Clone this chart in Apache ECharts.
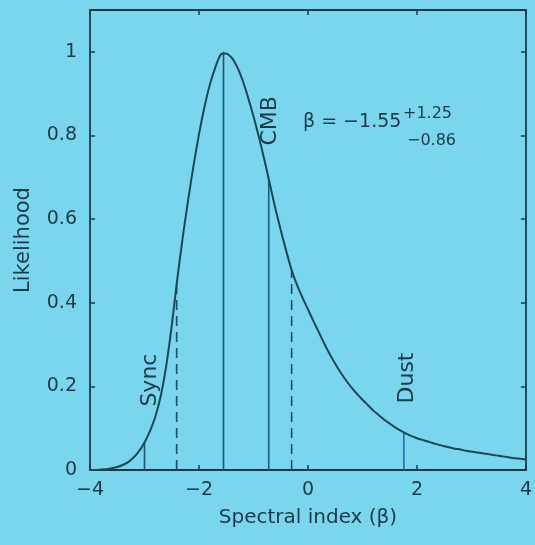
<!DOCTYPE html>
<html>
<head>
<meta charset="utf-8">
<script src="https://cdn.jsdelivr.net/npm/echarts@6/dist/echarts.min.js"></script>
<style>
  html, body { margin: 0; padding: 0; background: #7ad6ed; }
  #chart { width: 535px; height: 545px; }
</style>
</head>
<body>
<div id="chart"></div>
<script>
// 似然曲线 (spectral index beta)
const betaX = [-4.0, -3.9, -3.8, -3.7, -3.6, -3.5, -3.4, -3.3, -3.2, -3.1,
  -3.0, -2.9, -2.8, -2.7, -2.6, -2.5, -2.4, -2.3, -2.2, -2.1,
  -2.0, -1.9, -1.8, -1.7, -1.6, -1.5, -1.4, -1.3, -1.2, -1.1,
  -1.0, -0.9, -0.8, -0.7, -0.6, -0.5, -0.4, -0.3, -0.2, -0.1,
  0.0, 0.1, 0.2, 0.3, 0.4, 0.5, 0.6, 0.7, 0.8, 0.9,
  1.0, 1.1, 1.2, 1.3, 1.4, 1.5, 1.6, 1.7, 1.8, 1.9,
  2.0, 2.1, 2.2, 2.3, 2.4, 2.5, 2.6, 2.7, 2.8, 2.9,
  3.0, 3.1, 3.2, 3.3, 3.4, 3.5, 3.6, 3.7, 3.8, 3.9, 4.0]
const likelihood = [0.000, 0.000, 0.001, 0.002, 0.004, 0.007, 0.012, 0.019, 0.030, 0.045,
  0.066, 0.093, 0.128, 0.178, 0.250, 0.345, 0.455, 0.555, 0.645, 0.728,
  0.803, 0.868, 0.922, 0.963, 0.994, 0.996, 0.986, 0.964, 0.932, 0.891,
  0.846, 0.796, 0.742, 0.684, 0.626, 0.574, 0.524, 0.478, 0.442, 0.412,
  0.384, 0.356, 0.329, 0.302, 0.277, 0.254, 0.233, 0.214, 0.197, 0.182,
  0.168, 0.155, 0.142, 0.131, 0.120, 0.111, 0.102, 0.094, 0.087, 0.081,
  0.076, 0.072, 0.068, 0.064, 0.060, 0.057, 0.054, 0.051, 0.049, 0.046,
  0.044, 0.042, 0.040, 0.038, 0.036, 0.034, 0.032, 0.030, 0.028, 0.027, 0.025]

// 竖线: Sync, 下限, 最佳值, CMB, 上限, Dust
const markerX = [-3.0, -2.41, -1.55, -0.72, -0.3, 1.76]
const markerY = [0.066, 0.445, 1.0, 0.696, 0.478, 0.09]
const markerDashed = [false, true, false, false, true, false]
const markerColor = ['#1d5470', '#1d4a5e', '#1d5470', '#1f5a86', '#1d4a5e', '#2b63c4']

// 标签
const labelNames = ['Sync', 'CMB', 'Dust']
const labelX = [-2.9, -0.69, 1.82]
const labelY = [0.215, 0.835, 0.22]

const font = '"DejaVu Sans", Verdana, sans-serif'
const ink = '#1b3a47'
const minus = v => String(v).replace('-', '\u2212')

let myChart = echarts.init(document.getElementById('chart'))

let series = [{
  type: 'line',
  data: betaX.map((x, i) => [x, likelihood[i]]),
  showSymbol: false,
  smooth: 0.2,
  lineStyle: { color: '#1c4656', width: 2 },
  z: 5
}]

for (let i = 0; i < markerX.length; i++) {
  series.push({
    type: 'line',
    data: [[markerX[i], 0], [markerX[i], markerY[i]]],
    showSymbol: false,
    lineStyle: {
      color: markerColor[i],
      width: 1.6,
      type: markerDashed[i] ? [10, 6] : 'solid'
    },
    z: 3
  })
}

series.push({
  type: 'scatter',
  data: labelNames.map((n, i) => ({ value: [labelX[i], labelY[i]], name: n })),
  symbolSize: 0,
  itemStyle: { opacity: 1 },
  label: {
    show: true,
    position: 'inside',
    rotate: 90,
    formatter: p => p.name,
    color: ink,
    textBorderWidth: 0,
    fontFamily: font,
    fontSize: 22
  },
  z: 6
})

const axisCommon = {
  axisLine: { show: true, onZero: false, lineStyle: { color: ink, width: 1.8 } },
  axisTick: { show: true, inside: true, length: 5, lineStyle: { color: ink, width: 1.5 } },
  splitLine: { show: false }
}

let options = {
  backgroundColor: '#7ad6ed',
  animation: false,
  grid: { left: 90, right: 8, top: 10, bottom: 75 },
  xAxis: [
    Object.assign({
      type: 'value', min: -4, max: 4, interval: 2,
      name: 'Spectral index (\u03b2)',
      nameLocation: 'middle',
      nameGap: 38,
      nameTextStyle: { color: ink, fontFamily: font, fontSize: 20 },
      axisLabel: { color: ink, fontFamily: font, fontSize: 19, margin: 11, formatter: minus }
    }, axisCommon),
    Object.assign({
      type: 'value', min: -4, max: 4, interval: 2, position: 'top',
      axisLabel: { show: false }
    }, axisCommon)
  ],
  yAxis: [
    Object.assign({
      type: 'value', min: 0, max: 1.1, interval: 0.2,
      name: 'Likelihood',
      nameLocation: 'middle',
      nameGap: 56,
      nameRotate: 90,
      nameTextStyle: { color: ink, fontFamily: font, fontSize: 21 },
      axisLabel: { color: ink, fontFamily: font, fontSize: 19, margin: 13, showMaxLabel: false,
        formatter: v => (v > 1.05 ? '' : String(+v.toFixed(1))) }
    }, axisCommon),
    Object.assign({
      type: 'value', min: 0, max: 1.1, interval: 0.2, position: 'right',
      axisLabel: { show: false }
    }, axisCommon)
  ],
  graphic: [
    { type: 'text', left: 303, top: 113,
      style: { text: '\u03b2 = \u22121.55', fill: ink, font: '19px ' + font } },
    { type: 'text', left: 403, top: 106,
      style: { text: '+1.25', fill: ink, font: '16px ' + font } },
    { type: 'text', left: 407, top: 133,
      style: { text: '\u22120.86', fill: ink, font: '16px ' + font } }
  ],
  series: series
}

myChart.setOption(options)
</script>
</body>
</html>
